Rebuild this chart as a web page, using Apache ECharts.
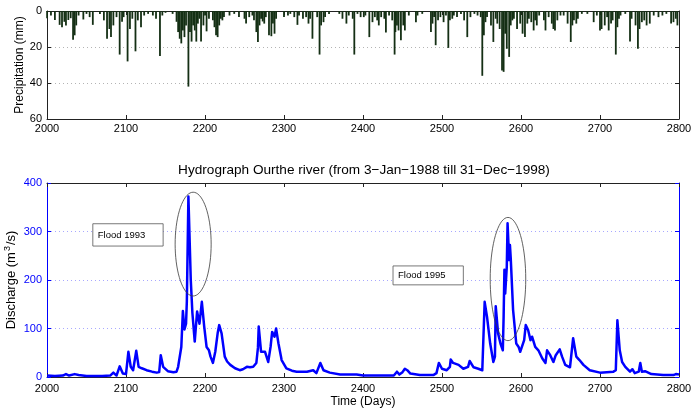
<!DOCTYPE html>
<html>
<head>
<meta charset="utf-8">
<script src="https://cdn.jsdelivr.net/npm/echarts@6/dist/echarts.min.js"></script>
<style>
  html, body { margin: 0; padding: 0; background: #fff; }
  #chart { width: 692px; height: 409px; }
</style>
</head>
<body>
<div id="chart"></div>
<script>
// Daily precipitation (mm) at the gauge, days 2000-2800
const rainDays = [
  2000, 2005, 2010, 2016, 2019, 2022, 2024, 2027, 2030, 2033, 2035, 2037, 2040, 2046, 2050, 2054, 2058,
  2067, 2072, 2076, 2079, 2081, 2084, 2088, 2092, 2095, 2097, 2102, 2105, 2108, 2112, 2115, 2119, 2123,
  2128, 2134, 2138, 2143, 2146, 2150, 2159, 2164, 2166, 2168, 2170, 2172, 2174, 2176, 2179, 2181, 2183,
  2185, 2187, 2189, 2191, 2193, 2195, 2198, 2200,
  2202, 2205, 2210, 2212, 2214, 2216, 2218, 2220, 2222, 2224, 2231, 2237, 2243, 2250, 2252, 2256, 2260,
  2262, 2265, 2267, 2269, 2271, 2273, 2275, 2277, 2281, 2284, 2286, 2288, 2290, 2300, 2305, 2308, 2313,
  2317, 2319, 2324, 2328, 2331, 2333, 2336, 2342, 2345, 2347, 2350, 2352, 2357, 2370, 2374, 2379, 2382,
  2387, 2389, 2393, 2397,
  2401, 2403, 2408, 2412, 2415, 2418, 2420, 2423, 2427, 2429, 2433, 2437, 2440, 2441, 2443, 2445, 2448,
  2451, 2453, 2458, 2467, 2469, 2475, 2486, 2488, 2490, 2492, 2495, 2498, 2502, 2505, 2508, 2510, 2513,
  2515, 2519, 2524, 2528, 2532, 2536, 2541, 2545, 2549, 2551, 2553, 2555, 2557, 2562, 2565, 2568, 2570,
  2573, 2576, 2578, 2580, 2582, 2585, 2587, 2589, 2591, 2595, 2599,
  2602, 2605, 2608, 2610, 2613, 2616, 2618, 2620, 2623, 2629, 2631, 2635, 2639, 2641, 2643, 2646, 2650,
  2654, 2659, 2663, 2665, 2667, 2670, 2672, 2677, 2684, 2692, 2696, 2700, 2702, 2706, 2709, 2711, 2714,
  2716, 2720, 2722, 2724, 2726, 2732, 2738, 2740, 2745, 2748, 2750, 2753, 2756, 2759, 2763, 2768, 2774,
  2779, 2784, 2790, 2793, 2796, 2798
];
const rainValues = [
  4, 2.5, 5, 7.7, 9, 6, 8, 5, 4, 16, 13.5, 8, 2.5, 4.7, 1.6, 3.4, 7.7,
  1.6, 5.2, 15.4, 10, 14.5, 8, 3.4, 24.2, 6, 3.4, 28, 10, 4.3, 22.4, 5.2, 9, 2.5,
  1.6, 2.5, 4.3, 25, 2.5, 1, 1.6, 6, 11.7, 15.4, 18, 10.8, 14.5, 8, 42, 11.7, 17,
  8, 10.8, 17, 7, 4.3, 17, 8, 2.5,
  11.3, 4.3, 5.2, 9, 13.5, 14.5, 8, 4.3, 5.2, 3.4, 2.5, 1.6, 3.4, 4.3, 7, 3.4, 2.5,
  5.2, 11.7, 17.2, 8, 4.3, 5.8, 7, 3.4, 13.5, 14, 7, 12.6, 4.3, 3.4, 2.5, 1.6, 3.4,
  7.7, 2.5, 4.3, 3.4, 7, 4.3, 15.4, 3.4, 24.2, 8, 6.2, 3.4, 1.6, 1.6, 4.3, 7, 2.5,
  4.3, 24.2, 1.6, 3.4,
  3.4, 2.5, 14.5, 6.2, 3.4, 5.2, 8, 3.4, 4.3, 12, 2.5, 5.2, 24.2, 11.7, 8, 10.8, 16.3,
  8, 10.8, 2.5, 6.2, 2.5, 1.6, 11.7, 7, 3.4, 19, 5.2, 3.4, 6.2, 2.5, 20.5, 5.2, 4.3,
  2.5, 3.4, 1.6, 5.2, 14.5, 3.4, 1.6, 2.5, 3.4, 36, 13.5, 6.2, 3.4, 8, 17.2, 4.3, 7,
  10, 33, 33.8, 12.6, 21, 25.5, 8, 5.2, 4.3, 10, 7,
  12.6, 14.5, 7, 4.3, 6.2, 10.8, 5.2, 8, 2.5, 5.2, 10.8, 3.4, 7, 10, 10.8, 5.2, 2.5,
  2.5, 7, 17.2, 8, 5.2, 7, 4.3, 1.6, 1.6, 6.2, 2.5, 10.8, 10, 8, 3.4, 10.8, 7,
  5.2, 24.2, 9, 4.3, 2.5, 1.6, 17, 4.3, 8, 21, 10, 6.2, 5.2, 8, 7, 2.5, 3.4,
  2.5, 1.6, 7, 6.2, 4.3, 8
];

// Discharge of the Ourthe (m3/s)
const flowDays = [
  2000, 2010, 2020, 2024, 2028, 2035, 2040, 2050, 2060, 2070, 2080, 2084, 2088, 2092, 2096, 2100,
  2103, 2106, 2109, 2113, 2116, 2120, 2126, 2133, 2139, 2142, 2144, 2147, 2153, 2160, 2164, 2166,
  2170, 2172, 2174, 2176, 2177, 2179, 2182, 2184, 2187, 2190, 2193, 2196, 2199, 2202, 2205, 2207,
  2210, 2213, 2216, 2218, 2221, 2225, 2228, 2232, 2238, 2244, 2248, 2253, 2257, 2261, 2265, 2267,
  2268, 2271, 2276, 2280, 2283, 2285, 2288, 2290, 2293, 2297, 2303, 2310, 2316, 2329, 2337, 2341,
  2346, 2350, 2358, 2371, 2392, 2400, 2426, 2439, 2443, 2446, 2450, 2453, 2456, 2460, 2472, 2489,
  2493, 2496, 2500, 2506, 2510, 2511, 2514, 2521, 2527, 2533, 2535, 2540, 2546, 2551, 2554, 2557,
  2561, 2565, 2567, 2568, 2571, 2574, 2577, 2578, 2579, 2580, 2582, 2583, 2585, 2586, 2587, 2590,
  2594, 2597, 2599, 2601, 2604, 2606, 2609, 2612, 2614, 2618, 2622, 2627, 2631, 2633, 2637, 2641,
  2644, 2649, 2652, 2656, 2662, 2666, 2670, 2674, 2679, 2687, 2700, 2717, 2720, 2722, 2725, 2728,
  2732, 2738, 2741, 2744, 2749, 2751, 2753, 2757, 2765, 2780, 2793, 2796, 2800
];
const flowValues = [
  3, 2, 3, 6, 3, 6, 4, 2, 2, 2, 3, 9, 3, 22, 7, 6,
  52, 21, 14, 54, 21, 18, 14, 11, 9, 10, 45, 21, 12, 10, 11, 21,
  62, 136, 98, 110, 155, 372, 200, 133, 73, 135, 110, 155, 104, 62, 55, 42,
  29, 52, 90, 107, 90, 42, 32, 25, 18, 14, 16, 21, 20, 21, 29, 60,
  104, 52, 52, 31, 62, 93, 83, 100, 69, 35, 18, 13, 11, 11, 14, 8,
  29, 14, 9, 5, 5, 3, 3, 3, 11, 5, 10, 17, 14, 7, 4, 4,
  8, 29, 17, 14, 21, 36, 29, 25, 17, 21, 33, 20, 17, 14, 155, 124,
  69, 31, 42, 146, 90, 69, 55, 124, 221, 172, 227, 317, 241, 272, 245, 138,
  69, 62, 52, 55, 76, 107, 97, 76, 83, 62, 55, 38, 29, 55, 45, 31,
  45, 57, 42, 25, 20, 80, 42, 35, 25, 14, 9, 11, 14, 117, 55, 31,
  21, 11, 16, 8, 11, 29, 11, 12, 6, 4, 4, 6, 5
];

// Flood annotations: ellipse centre (day, m3/s) and radii (days, m3/s)
const floodEllipses = [
  [2185, 274, 22.8, 107],
  [2583.5, 202, 22.5, 127]
];
// Flood label boxes: [day left, top value, day right, bottom value]
const floodBoxes = [
  [2058, 316, 2147, 270],
  [2438, 229, 2527, 190]
];
const floodLabels = ['Flood 1993', 'Flood 1995'];

const dayTicks = { min: 2000, max: 2800, interval: 100 };
const rainTicks = { min: 0, max: 60, interval: 20 };
const flowTicks = { min: 0, max: 400, interval: 100 };

const FONT = '"Liberation Sans", Arial, Helvetica, sans-serif';
const BLUE = '#0000ff';
const FRAME = '#222';
const plain = v => String(v);

const rainData = rainDays.map((d, i) => [d, rainValues[i]]);
const flowData = flowDays.map((d, i) => [d, flowValues[i]]);

function frameX(gridIndex, position, withLabels, extra) {
  return Object.assign({
    type: 'value', gridIndex, position,
    min: dayTicks.min, max: dayTicks.max, interval: dayTicks.interval,
    axisLine: { show: true, onZero: false, lineStyle: { color: FRAME, width: 1 } },
    axisTick: { show: true, inside: true, length: 4, lineStyle: { color: FRAME } },
    axisLabel: { show: withLabels, fontSize: 11, color: '#000', fontFamily: FONT,
                 margin: gridIndex === 1 ? 6 : 4, formatter: plain },
    splitLine: { show: false }
  }, extra || {});
}

const chart = echarts.init(document.getElementById('chart'), null, { renderer: 'canvas' });

chart.setOption({
  animation: false,
  backgroundColor: '#fff',
  graphic: [{
    type: 'text', x: 364, y: 170,
    style: {
      text: 'Hydrograph Ourthe river (from 3\u2212Jan\u22121988 till 31\u2212Dec\u22121998)',
      font: '13.6px ' + FONT, fill: '#000', textAlign: 'center', textVerticalAlign: 'middle'
    }
  }],
  grid: [
    { left: 47, top: 11, width: 632, height: 108, outerBoundsMode: 'none', containLabel: false },
    { left: 47, top: 183, width: 632, height: 194, outerBoundsMode: 'none', containLabel: false }
  ],
  xAxis: [
    frameX(0, 'bottom', true),
    frameX(0, 'top', false),
    frameX(1, 'bottom', true, {
      name: 'Time (Days)', nameLocation: 'middle', nameGap: 19, nameMoveOverlap: false,
      nameTextStyle: { fontSize: 12, color: '#000', fontFamily: FONT }
    }),
    frameX(1, 'top', false)
  ],
  yAxis: [
    {
      type: 'value', gridIndex: 0, position: 'left', inverse: true,
      min: rainTicks.min, max: rainTicks.max, interval: rainTicks.interval,
      name: 'Precipitation (mm)', nameLocation: 'middle', nameGap: 21, nameMoveOverlap: false,
      nameTextStyle: { fontSize: 12, color: '#000', fontFamily: FONT },
      axisLine: { show: true, lineStyle: { color: FRAME } },
      axisTick: { show: true, inside: true, length: 4, lineStyle: { color: FRAME } },
      axisLabel: { fontSize: 11, color: '#000', fontFamily: FONT, margin: 5, formatter: plain },
      splitLine: { show: true, lineStyle: { color: '#b4b4b4', type: [1, 3], width: 1 } }
    },
    {
      type: 'value', gridIndex: 0, position: 'right', inverse: true,
      min: rainTicks.min, max: rainTicks.max, interval: rainTicks.interval,
      axisLine: { show: true, lineStyle: { color: FRAME } },
      axisTick: { show: true, inside: true, length: 4, lineStyle: { color: FRAME } },
      axisLabel: { show: false }, splitLine: { show: false }
    },
    {
      type: 'value', gridIndex: 1, position: 'left',
      min: flowTicks.min, max: flowTicks.max, interval: flowTicks.interval,
      name: 'Discharge (m{sup|3}/s)', nameLocation: 'middle', nameGap: 27, nameMoveOverlap: false,
      nameTextStyle: {
        fontSize: 13, color: '#000', fontFamily: FONT,
        rich: { sup: { fontSize: 9, color: '#000', fontFamily: FONT, verticalAlign: 'top', padding: [0, 1, 8, 1] } }
      },
      axisLine: { show: true, lineStyle: { color: BLUE } },
      axisTick: { show: true, inside: true, length: 4, lineStyle: { color: BLUE } },
      axisLabel: { fontSize: 11, color: BLUE, fontFamily: FONT, margin: 5, formatter: plain },
      splitLine: { show: true, lineStyle: { color: '#a8a8ff', type: [1, 3], width: 1 } }
    },
    {
      type: 'value', gridIndex: 1, position: 'right',
      min: flowTicks.min, max: flowTicks.max, interval: flowTicks.interval,
      axisLine: { show: true, lineStyle: { color: BLUE } },
      axisTick: { show: true, inside: true, length: 4, lineStyle: { color: BLUE } },
      axisLabel: { show: false }, splitLine: { show: false }
    }
  ],
  series: [
    {
      name: 'Precipitation', type: 'bar', xAxisIndex: 0, yAxisIndex: 0,
      data: rainData, barWidth: 1.8, barGap: '-100%',
      itemStyle: { color: '#142f14' }, silent: true
    },
    {
      name: 'Discharge', type: 'line', xAxisIndex: 2, yAxisIndex: 2,
      data: flowData, showSymbol: false, symbol: 'none',
      lineStyle: { color: BLUE, width: 2.5, join: 'round' }, z: 3, silent: true
    },
    {
      name: 'Flood periods', type: 'custom', xAxisIndex: 2, yAxisIndex: 2,
      data: floodEllipses, encode: { x: 0, y: 1 }, clip: false, z: 4, silent: true,
      renderItem: function (params, api) {
        const c = api.coord([api.value(0), api.value(1)]);
        const r = api.size([api.value(2), api.value(3)]);
        const pts = [];
        for (let k = 0; k <= 72; k++) {
          const a = (k / 72) * Math.PI * 2;
          pts.push([c[0] + r[0] * Math.cos(a), c[1] + r[1] * Math.sin(a)]);
        }
        return {
          type: 'polyline', shape: { points: pts },
          style: { stroke: '#3a3a3a', lineWidth: 0.8, fill: null }
        };
      }
    },
    {
      name: 'Flood labels', type: 'custom', xAxisIndex: 2, yAxisIndex: 2,
      data: floodBoxes, encode: { x: 0, y: 1 }, clip: false, z: 5, silent: true,
      renderItem: function (params, api) {
        const p0 = api.coord([api.value(0), api.value(1)]);
        const p1 = api.coord([api.value(2), api.value(3)]);
        const w = p1[0] - p0[0], h = p1[1] - p0[1];
        return {
          type: 'group',
          children: [
            { type: 'rect', shape: { x: p0[0], y: p0[1], width: w, height: h },
              style: { fill: '#fff', stroke: '#555', lineWidth: 0.8 } },
            { type: 'text', x: p0[0] + 5, y: p0[1] + h / 2,
              style: { text: floodLabels[params.dataIndex], font: '9.5px ' + FONT,
                       fill: '#000', textAlign: 'left', textVerticalAlign: 'middle' } }
          ]
        };
      }
    }
  ]
});
</script>
</body>
</html>
